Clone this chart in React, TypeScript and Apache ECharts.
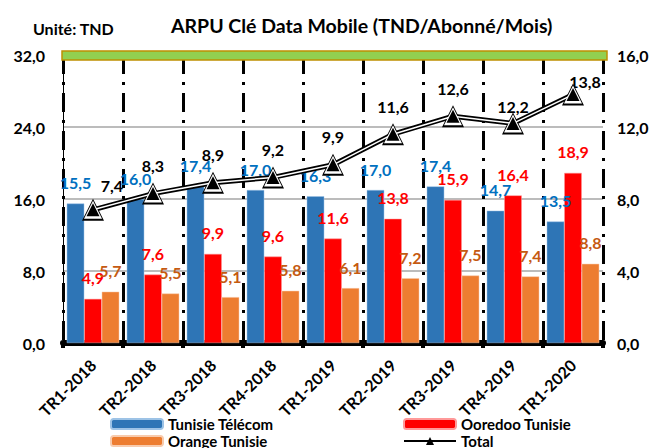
import React, { useEffect, useRef } from "react";
import * as echarts from "echarts";

const categories = ["TR1-2018", "TR2-2018", "TR3-2018", "TR4-2018", "TR1-2019", "TR2-2019", "TR3-2019", "TR4-2019", "TR1-2020"];
const tunisieTelecom = [15.5, 16.0, 17.4, 17.0, 16.3, 17.0, 17.4, 14.7, 13.5];
const ooredoo = [4.9, 7.6, 9.9, 9.6, 11.6, 13.8, 15.9, 16.4, 18.9];
const orange = [5.7, 5.5, 5.1, 5.8, 6.1, 7.2, 7.5, 7.4, 8.8];
const total = [7.4, 8.3, 8.9, 9.2, 9.9, 11.6, 12.6, 12.2, 13.8];
const leftTicks = { min: 0, max: 32, interval: 8 };
const rightTicks = { min: 0, max: 16, interval: 4 };
const totalLabelOffsets: number[][] = [[19, 4], [0, 0], [0, 0], [0, 0], [0, 0], [0, 0], [0, 0], [0, 11], [12, 15]];

const FONT = "Lato";
const fmt = (v: number) => v.toFixed(1).replace(".", ",");

export default function App() {
  const ref = useRef<HTMLDivElement>(null);
  useEffect(() => {
    if (!ref.current) return;
    const chart = echarts.init(ref.current, null, { renderer: "svg" });
    const barLabel = (color: string) => ({
      show: true,
      position: "top",
      distance: 13,
      color,
      fontFamily: FONT,
      fontWeight: "bold",
      fontSize: 16,
      formatter: (p: any) => fmt(p.value),
    });
    const triSeries = (name: string, size: number, color: string, z: number) => ({
      name,
      type: "line",
      yAxisIndex: 1,
      data: total,
      symbol: "triangle",
      symbolSize: size,
      showSymbol: true,
      itemStyle: { color },
      lineStyle: { width: 0, opacity: 0 },
      silent: true,
      z,
    });
    const legendText = { fontFamily: FONT, fontWeight: "bold", fontSize: 15, color: "#000", lineHeight: 18 };
    const mkLegend = (name: string, left: number, top: number) => ({
      left,
      top,
      orient: "horizontal",
      itemWidth: 52,
      itemHeight: 10,
      padding: 0,
      data: [name],
      textStyle: legendText,
    });
    chart.setOption({
      animation: false,
      backgroundColor: "#ffffff",
      textStyle: { fontFamily: FONT },
      title: [
        {
          text: "ARPU Clé Data Mobile (TND/Abonné/Mois)",
          left: 166,
          top: 10,
          textStyle: { fontFamily: FONT, fontWeight: "bold", fontSize: 19.5, color: "#000" },
        },
        {
          text: "Unité: TND",
          left: 28,
          top: 15,
          textStyle: { fontFamily: FONT, fontWeight: "bold", fontSize: 16, color: "#000" },
        },
      ],
      grid: { left: 63, right: 54, top: 55, bottom: 105, containLabel: false },
      legend: [
        mkLegend("Tunisie Télécom", 110, 415),
        mkLegend("Orange Tunisie", 110, 432),
        mkLegend("Ooredoo Tunisie", 403, 415),
        mkLegend("Total", 403, 432),
      ],
      xAxis: {
        type: "category",
        data: categories,
        boundaryGap: true,
        axisLine: { show: true, lineStyle: { color: "#000", width: 6 } },
        axisTick: { show: true, length: 5, lineStyle: { color: "#000", width: 4 } },
        axisLabel: {
          rotate: 45,
          margin: 19,
          color: "#000",
          fontFamily: FONT,
          fontWeight: "bold",
          fontSize: 16,
        },
        splitLine: { show: true, lineStyle: { color: "#000", width: 3, type: [19, 8, 3, 8] } },
        z: 1,
      },
      yAxis: [
        {
          type: "value",
          ...leftTicks,
          axisLine: { show: true, lineStyle: { color: "#000", width: 1 } },
          axisTick: { show: false },
          axisLabel: {
            margin: 18,
            color: "#000",
            fontFamily: FONT,
            fontWeight: "bold",
            fontSize: 16,
            formatter: (v: number) => fmt(v),
          },
          splitLine: { show: true, lineStyle: { color: "#A6A6A6", width: 1.5 } },
        },
        {
          type: "value",
          ...rightTicks,
          position: "right",
          axisLine: { show: false },
          axisTick: { show: false },
          axisLabel: {
            margin: 14,
            color: "#000",
            fontFamily: FONT,
            fontWeight: "bold",
            fontSize: 16,
            formatter: (v: number) => fmt(v),
          },
          splitLine: { show: false },
        },
      ],
      series: [
        {
          name: "Tunisie Télécom",
          type: "bar",
          data: tunisieTelecom,
          barGap: "0%",
          barCategoryGap: "12.5%",
          itemStyle: { color: "#2E75B6", borderColor: "#9DC3E6", borderWidth: 0.5 },
          label: barLabel("#0070C0"),
        },
        {
          name: "Ooredoo Tunisie",
          type: "bar",
          data: ooredoo,
          itemStyle: { color: "#FF0000", borderColor: "#FF9999", borderWidth: 0.5 },
          label: barLabel("#FF0000"),
        },
        {
          name: "Orange Tunisie",
          type: "bar",
          data: orange,
          itemStyle: { color: "#ED7D31", borderColor: "#F8CBAD", borderWidth: 0.5 },
          label: barLabel("#C55A11"),
        },
        {
          name: "Total",
          type: "line",
          yAxisIndex: 1,
          data: total.map((v, i) => ({ value: v, label: { offset: totalLabelOffsets[i] } })),
          symbol: "triangle",
          symbolSize: 22,
          showSymbol: true,
          itemStyle: { color: "#000" },
          lineStyle: { color: "#000", width: 5 },
          label: {
            show: true,
            position: "top",
            distance: 9,
            color: "#000",
            fontFamily: FONT,
            fontWeight: "bold",
            fontSize: 16,
            formatter: (p: any) => fmt(p.value),
          },
          z: 3,
        },
        {
          name: "Total_w",
          type: "line",
          yAxisIndex: 1,
          data: total,
          symbol: "none",
          lineStyle: { color: "#fff", width: 1.5 },
          silent: true,
          z: 4,
        },
        triSeries("Total_s1", 18, "#fff", 5),
        triSeries("Total_s2", 13, "#000", 6),
      ],
      graphic: [
        {
          type: "rect",
          shape: { x: 62, y: 51, width: 545, height: 9 },
          style: { fill: "#92D050", stroke: "#BF9000", lineWidth: 1.5 },
          z: 100,
        },
      ],
    });
    return () => chart.dispose();
  }, []);
  return (
    <div
      ref={ref}
      style={{ position: "fixed", left: 0, top: 0, width: 657, height: 448, background: "#fff" }}
    />
  );
}
